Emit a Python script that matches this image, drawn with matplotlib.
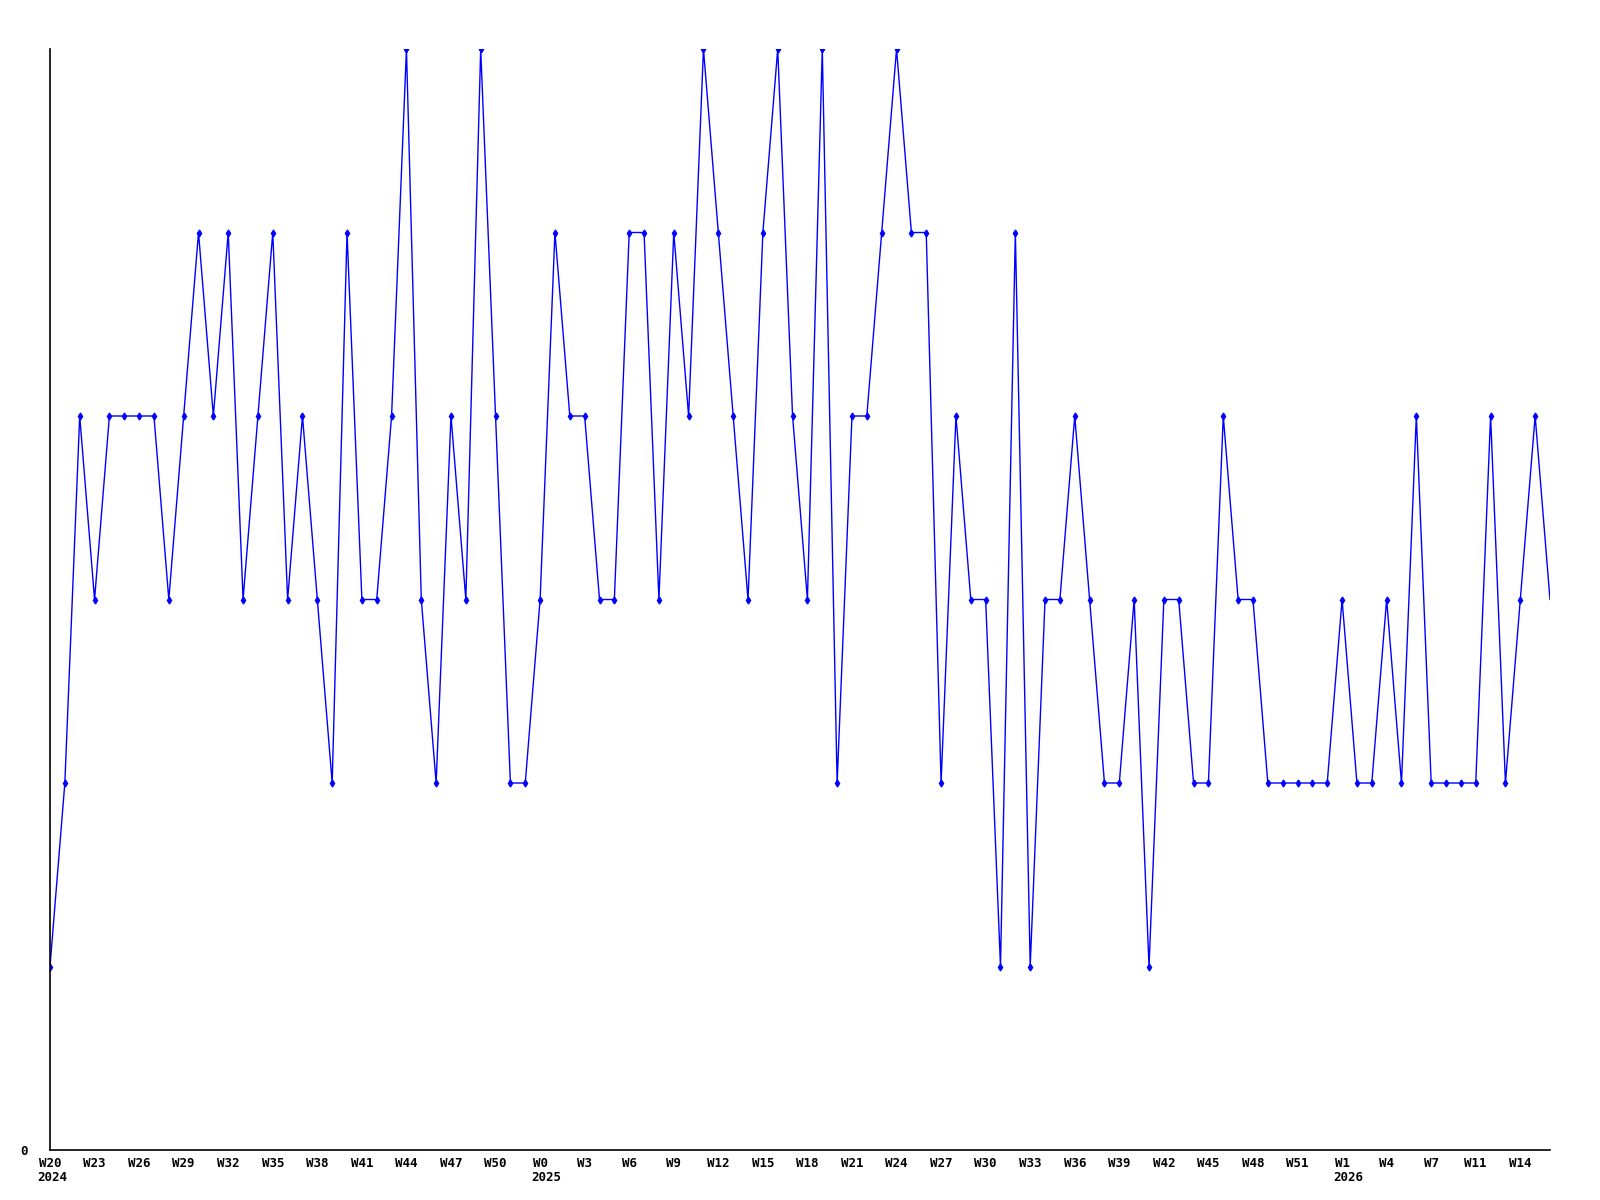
import numpy as np
import matplotlib
import matplotlib.pyplot as plt
matplotlib.use('Agg')

### DATA ###
values = [
    1, 2, 4, 3, 4, 4, 4, 4, 3, 4, 5, 4, 5, 3, 4, 5, 3, 4, 3, 2,
    5, 3, 3, 4, 6, 3, 2, 4, 3, 6, 4, 2, 2, 3, 5, 4, 4, 3, 3, 5,
    5, 3, 5, 4, 6, 5, 4, 3, 5, 6, 4, 3, 6, 2, 4, 4, 5, 6, 5, 5,
    2, 4, 3, 3, 1, 5, 1, 3, 3, 4, 3, 2, 2, 3, 1, 3, 3, 2, 2, 4,
    3, 3, 2, 2, 2, 2, 2, 3, 2, 2, 3, 2, 4, 2, 2, 2, 2, 4, 2, 3,
    4, 3,
]
week_labels = [
    "W20", "W23", "W26", "W29", "W32", "W35", "W38", "W41", "W44", "W47",
    "W50", "W0", "W3", "W6", "W9", "W12", "W15", "W18", "W21", "W24",
    "W27", "W30", "W33", "W36", "W39", "W42", "W45", "W48", "W51", "W1",
    "W4", "W7", "W11", "W14",
]
year_labels = {"W20": "2024", "W0": "2025", "W1": "2026"}

x = np.arange(len(values))
tick_pos = x[::3][:len(week_labels)]

### PLOT ###
fig = plt.figure(figsize=(16, 12), dpi=100)
ax = fig.add_axes([50 / 1600, 50 / 1200, 1500 / 1600, 1101 / 1200])

# last point has no marker in the original
ax.plot(x, values, color='#0000ff', lw=1.0, marker='d', ms=3.5,
        markevery=list(range(len(values) - 1)))

ax.set_xlim(0, len(values) - 1)
ax.set_ylim(0, 6)

for s in ['top', 'right']:
    ax.spines[s].set_visible(False)
for s in ['left', 'bottom']:
    ax.spines[s].set_linewidth(1.2)
    ax.spines[s].set_color('black')

font = dict(family='DejaVu Sans Mono', weight='bold', size=9)

ax.set_yticks([0])
ax.set_yticklabels(['0'], **font)
ax.tick_params(axis='y', length=0, pad=16)

ax.set_xticks(tick_pos)
ax.set_xticklabels(week_labels, **font)
ax.tick_params(axis='x', length=0, pad=5)

# year under the week label, left-aligned with it
char_w = 0.602 * 9  # points per monospace char
for pos, lab in zip(tick_pos, week_labels):
    if lab in year_labels:
        ax.annotate(year_labels[lab], xy=(pos, 0), xycoords=('data', 'axes fraction'),
                    xytext=(-len(lab) * char_w / 2 - 1, -15), textcoords='offset points',
                    ha='left', va='top', **font)

fig.savefig('out.png', dpi=100)
